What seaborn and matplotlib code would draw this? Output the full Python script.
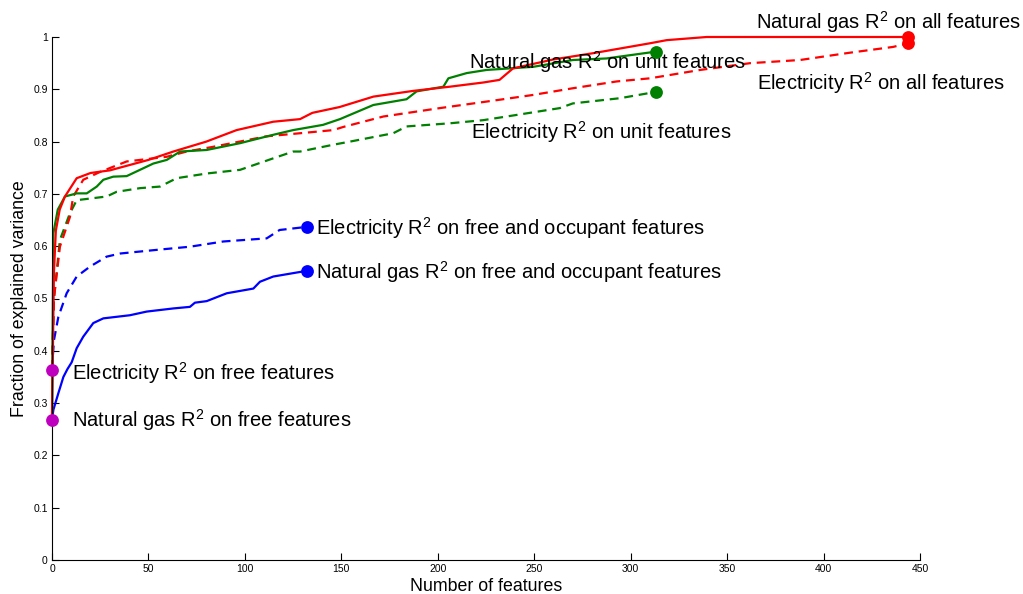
import numpy as np
import pandas as pd
import matplotlib
matplotlib.use("Agg")
import matplotlib.pyplot as plt
import seaborn as sns

# ---------------- data ----------------
gas_all_x = [0, 1, 2, 4, 6.7, 12.8, 20, 30, 40, 50, 62.9, 80, 95.7, 114.7, 128.6, 135, 149,
             166.6, 187.3, 206.3, 223.6, 232, 239, 259.8, 280.5, 310, 318.7, 339.4, 444]
gas_all_y = [0.27, 0.55, 0.63, 0.67, 0.695, 0.730, 0.740, 0.745, 0.755, 0.765, 0.781, 0.800, 0.822,
             0.838, 0.843, 0.855, 0.866, 0.886, 0.897, 0.905, 0.913, 0.918, 0.940, 0.957, 0.969,
             0.988, 0.994, 1.0, 1.0]

elec_all_x = [0, 1, 4.1, 9.3, 11, 16.2, 24.9, 38.7, 59.5, 69.8, 83.5, 111, 128.6, 145.8, 151,
              171.8, 201, 232, 249, 270, 292.7, 310, 336, 362, 387.8, 413.7, 436, 444]
elec_all_y = [0.365, 0.50, 0.599, 0.656, 0.695, 0.727, 0.742, 0.762, 0.771, 0.781, 0.790, 0.810,
              0.816, 0.822, 0.828, 0.848, 0.864, 0.880, 0.889, 0.902, 0.915, 0.921, 0.937, 0.950,
              0.956, 0.970, 0.981, 0.988]

gas_unit_x = [0, 0.7, 3, 6.7, 12.8, 18, 23.2, 26.6, 31.8, 38.7, 45.6, 52.5, 59.5, 66.4, 80.2,
              97.5, 114.7, 125, 140.5, 149.3, 166.6, 183.8, 189, 202.9, 205.5, 215, 225.3, 249.5,
              270, 287.5, 313]
gas_unit_y = [0.27, 0.625, 0.67, 0.695, 0.701, 0.701, 0.714, 0.727, 0.733, 0.734, 0.746, 0.758,
              0.765, 0.781, 0.784, 0.797, 0.813, 0.822, 0.832, 0.843, 0.870, 0.881, 0.896, 0.905,
              0.921, 0.931, 0.937, 0.943, 0.956, 0.959, 0.972]

elec_unit_x = [0, 1, 4.1, 9.3, 12.8, 28.3, 33.5, 45.6, 56, 64.6, 80.2, 97.5, 114.7, 125, 128.6,
               145.8, 154.5, 176.9, 183.8, 206.3, 223.6, 240.9, 263.2, 270, 294.5, 313]
elec_unit_y = [0.365, 0.50, 0.612, 0.663, 0.688, 0.695, 0.704, 0.711, 0.714, 0.730, 0.739, 0.746,
               0.768, 0.781, 0.781, 0.794, 0.800, 0.816, 0.829, 0.835, 0.841, 0.851, 0.864, 0.873,
               0.883, 0.895]

elec_occ_x = [0, 1, 3.3, 7.6, 12.8, 19.7, 28.3, 35.3, 54.3, 71.5, 88.8, 111.3, 118, 132.2]
elec_occ_y = [0.365, 0.42, 0.465, 0.51, 0.542, 0.561, 0.580, 0.586, 0.593, 0.599, 0.609, 0.615,
              0.631, 0.637]

gas_occ_x = [0, 0.7, 3.3, 5.9, 8, 10.2, 12.8, 16.2, 21.4, 26.6, 40.4, 49.1, 62.9, 71.5, 74.1, 80.2,
             90.6, 104.4, 107.8, 114.7, 132.2]
gas_occ_y = [0.268, 0.287, 0.319, 0.350, 0.365, 0.378, 0.405, 0.427, 0.453, 0.462, 0.468, 0.475,
             0.481, 0.484, 0.492, 0.495, 0.510, 0.519, 0.532, 0.542, 0.553]

free_x = [0, 0]
free_y = [0.363, 0.268]

labels = [
    ("Natural gas R$^2$ on all features", 365, 1.029),
    ("Electricity R$^2$ on all features", 365.4, 0.912),
    ("Natural gas R$^2$ on unit features", 216.2, 0.952),
    ("Electricity R$^2$ on unit features", 217.2, 0.818),
    ("Electricity R$^2$ on free and occupant features", 136.9, 0.635),
    ("Natural gas R$^2$ on free and occupant features", 136.9, 0.551),
    ("Electricity R$^2$ on free features", 10.4, 0.358),
    ("Natural gas R$^2$ on free features", 10.4, 0.268),
]

x_ticks = list(range(0, 451, 50))
y_ticks = [0, 0.1, 0.2, 0.3, 0.4, 0.5, 0.6, 0.7, 0.8, 0.9, 1]
y_tick_labels = ["0", "0.1", "0.2", "0.3", "0.4", "0.5", "0.6", "0.7", "0.8", "0.9", "1"]

# ---------------- style ----------------
sns.set_style("ticks")
plt.rcParams["font.family"] = ["Liberation Sans", "DejaVu Sans"]
plt.rcParams["mathtext.fontset"] = "custom"
plt.rcParams["mathtext.rm"] = "Liberation Sans"
plt.rcParams["mathtext.it"] = "Liberation Sans"
for k in ["text.color", "axes.labelcolor", "xtick.color", "ytick.color", "axes.edgecolor"]:
    plt.rcParams[k] = "black"

RED = "#ff0000"
GREEN = "#008000"
BLUE = "#0000ff"
MAG = "#bf00bf"
DASH = (0, (4, 2.6))
LW = 1.6

fig = plt.figure(figsize=(10.23, 5.94), dpi=100)
ax = fig.add_axes([52 / 1023, 1 - 560 / 594, (920 - 52) / 1023, (560 - 37) / 594])

series = [
    (gas_occ_x, gas_occ_y, BLUE, "-"),
    (elec_occ_x, elec_occ_y, BLUE, DASH),
    (elec_unit_x, elec_unit_y, GREEN, DASH),
    (elec_all_x, elec_all_y, RED, DASH),
    (gas_unit_x, gas_unit_y, GREEN, "-"),
    (gas_all_x, gas_all_y, RED, "-"),
]
for xs, ys, c, ls in series:
    sns.lineplot(x=xs, y=ys, ax=ax, color=c, linestyle=ls, linewidth=LW,
                 sort=False, estimator=None, clip_on=False)
    sns.scatterplot(x=[xs[-1]], y=[ys[-1]], ax=ax, color=c, s=85, linewidth=0,
                    clip_on=False, zorder=5)

sns.scatterplot(x=free_x, y=free_y, ax=ax, color=MAG, s=85, linewidth=0,
                clip_on=False, zorder=6)

for txt, tx, ty in labels:
    ax.text(tx, ty, txt, fontsize=14.5, va="center", ha="left", color="black", clip_on=False)

ax.set_xlim(0, 450)
ax.set_ylim(0, 1)
ax.set_xticks(x_ticks)
ax.set_xticklabels([str(t) for t in x_ticks])
ax.set_yticks(y_ticks)
ax.set_yticklabels(y_tick_labels)
ax.tick_params(direction="in", length=5, width=0.8, labelsize=7.5, pad=3, colors="black")
ax.set_xlabel("Number of features", fontsize=12.8, labelpad=3, color="black")
ax.set_ylabel("Fraction of explained variance", fontsize=12.8, labelpad=4, color="black")
sns.despine(ax=ax)
for sp in ["left", "bottom"]:
    ax.spines[sp].set_linewidth(0.8)
    ax.spines[sp].set_color("black")

fig.savefig("out.png", dpi=100)
